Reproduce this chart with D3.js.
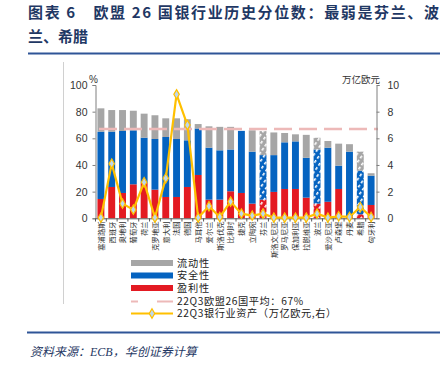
<!DOCTYPE html>
<html><head><meta charset="utf-8">
<script src="https://cdn.jsdelivr.net/npm/d3@7"></script>
<style>body{margin:0;background:#fff}svg{display:block}</style>
</head><body>
<svg id="c" width="446" height="366"></svg>
<script>
const countries = ["塞浦路斯","西班牙","奥地利","葡萄牙","荷兰","克罗地亚","意大利","法国","德国","马耳他","爱尔兰","斯洛伐克","比利时","捷克","立陶宛","芬兰","斯洛文尼亚","罗马尼亚","保加利亚","拉脱维亚","波兰","爱沙尼亚","卢森堡","丹麦","希腊","匈牙利"];
const profit    = [14.5,23.5,19,25.5,26.5,21.5,16,16,23.5,32.5,14,14,20.3,19,11,14,19.8,22,22,15.5,11,12.4,22,1.5,3,10];
const safety    = [50.5,41.5,46.5,40.5,34,38,45,43.5,35,34.9,39,37,31.3,46.6,39,33.4,27.6,35,35.7,29.9,40.6,40.6,17.5,48.5,32.7,22];
const liquidity = [17.5,16.2,15.7,14.7,18,17.8,14,15.5,15.8,3.3,16,17.6,17,0,16,18,17,7,5.3,17.2,8.8,5,16.5,5.6,14.3,1.8];
const assets    = [0.05,4.1,1.1,0.65,2.7,0.05,3.0,9.3,7.0,0.05,0.9,0.1,1.25,0.35,0.2,0.35,0.05,0.05,0.05,0.05,0.35,0.05,0.15,0.1,0.85,0.1];
const hatched   = ["芬兰","波兰","希腊"];
const average = 67;
const leftTicks = [0,20,40,60,80,100];
const rightTicks = [0,2,4,6,8,10];
const seriesNames = ["流动性","安全性","盈利性"];

const svg = d3.select("#c");
const font = "'Liberation Sans', Arial, sans-serif";
const cjk = "'Noto Sans CJK SC', sans-serif";
const C = {gray:"#A6A6A6", blue:"#0563C0", red:"#E31A22", yellow:"#FFC000", pink:"#EDB9B8", marker:"#BDD7EE"};

// patterns
const defs = svg.append("defs");
[["gray",C.gray],["blue",C.blue],["red",C.red]].forEach(([k,col])=>{
  const p = defs.append("pattern").attr("id","h_"+k).attr("patternUnits","userSpaceOnUse")
    .attr("width",5).attr("height",5).attr("patternTransform","rotate(35)");
  p.append("rect").attr("width",5).attr("height",5).attr("fill",col);
  p.append("rect").attr("x",0).attr("y",0).attr("width",1.6).attr("height",3).attr("fill","#fff");
});

// title
svg.append("text").attr("x",28).attr("y",18).attr("font-family",cjk).attr("font-weight","bold")
  .attr("font-size",15).attr("fill","#1F3864").attr("textLength",411).attr("lengthAdjust","spacing")
  .text("图表 6　欧盟 26 国银行业历史分位数：最弱是芬兰、波");
svg.append("text").attr("x",28).attr("y",42).attr("font-family",cjk).attr("font-weight","bold")
  .attr("font-size",15).attr("fill","#1F3864").text("兰、希腊");
svg.append("line").attr("x1",28).attr("x2",440).attr("y1",53.5).attr("y2",53.5).attr("stroke","#2F5597").attr("stroke-width",2);
svg.append("line").attr("x1",27).attr("x2",440).attr("y1",332.5).attr("y2",332.5).attr("stroke","#2F5597").attr("stroke-width",2);
svg.append("text").attr("x",30).attr("y",356).attr("font-family","'Liberation Serif', 'Noto Sans CJK SC', serif")
  .attr("font-style","italic").attr("font-size",12).attr("fill","#1F3864").text("资料来源：ECB，华创证券计算");

// frame line left
svg.append("line").attr("x1",63.5).attr("x2",63.5).attr("y1",62).attr("y2",304).attr("stroke","#D0D0D0").attr("stroke-width",1);

// scales
const x = d3.scaleBand().domain(countries).range([95.5,376.5]).paddingInner(0.36).paddingOuter(0.18);
const y = d3.scaleLinear().domain([0,100]).range([218.3,85]);
const y2 = d3.scaleLinear().domain([0,10]).range([218.3,85]);

// bars
const g = svg.append("g");
countries.forEach((c,i)=>{
  const h = hatched.includes(c);
  const segs = [[0,profit[i],"red",C.red],[profit[i],profit[i]+safety[i],"blue",C.blue],[profit[i]+safety[i],profit[i]+safety[i]+liquidity[i],"gray",C.gray]];
  segs.forEach(([a,b,k,col])=>{
    if(b-a<=0) return;
    g.append("rect").attr("x",x(c)).attr("width",x.bandwidth()).attr("y",y(b)).attr("height",y(a)-y(b))
      .attr("fill",h?`url(#h_${k})`:col);
  });
});

// average dashed line
svg.append("line").attr("x1",99).attr("x2",378).attr("y1",y(average)).attr("y2",y(average))
  .attr("stroke",C.pink).attr("stroke-width",2.5).attr("stroke-dasharray","18,7");

// axes
const axL = svg.append("g").attr("transform","translate(95.5,0)")
  .call(d3.axisLeft(y).tickValues(leftTicks).tickSize(3).tickPadding(5));
const axR = svg.append("g").attr("transform","translate(376.5,0)")
  .call(d3.axisRight(y2).tickValues(rightTicks).tickSize(3).tickPadding(8));
[axL,axR].forEach(a=>{
  a.select(".domain").attr("stroke","#7F7F7F");
  a.selectAll(".tick line").attr("stroke","#7F7F7F");
  a.selectAll("text").attr("font-family",font).attr("font-size",10.5).attr("fill","#333");
});
svg.append("text").attr("x",89).attr("y",83).attr("font-family",font).attr("font-size",10).attr("fill","#333").text("%");
svg.append("text").attr("x",380).attr("y",83).attr("text-anchor","end").attr("font-family",cjk).attr("font-size",9.5).attr("fill","#333").text("万亿欧元");

// x axis
const ax = svg.append("g").attr("transform","translate(0,218.3)")
  .call(d3.axisBottom(x).tickSize(0).tickPadding(0).tickFormat(""));
ax.select(".domain").attr("stroke","#595959");
const step = x.step();
x.domain().forEach((c,i)=>{
  const xb = x(c) - x.paddingInner()*step/2;
  svg.append("line").attr("x1",xb).attr("x2",xb).attr("y1",218.3).attr("y2",221.5).attr("stroke","#595959");
});
svg.append("g").selectAll("text").data(countries).join("text")
  .attr("transform",d=>`translate(${x(d)+x.bandwidth()/2+2.8},221.5) rotate(-90)`)
  .attr("text-anchor","end").attr("font-family",cjk).attr("font-size",7.3).attr("fill","#333").text(d=>d);

// asset line
const line = d3.line().x((d,i)=>x(countries[i])+x.bandwidth()/2).y(d=>y2(d));
svg.append("path").datum(assets).attr("d",line).attr("fill","none").attr("stroke",C.yellow).attr("stroke-width",2.2);
svg.append("g").selectAll("path").data(assets).join("path")
  .attr("d",d3.symbol(d3.symbolDiamond,26))
  .attr("transform",(d,i)=>`translate(${x(countries[i])+x.bandwidth()/2},${y2(d)})`)
  .attr("fill",C.marker).attr("stroke",C.yellow).attr("stroke-width",1.2);

// legend
const lg = svg.append("g");
const lx = 131, tx = 177, fs = 10.2;
[[C.gray,263],[C.blue,275.5],[C.red,288]].forEach(([col,yy],i)=>{
  lg.append("rect").attr("x",lx).attr("y",yy-3).attr("width",42).attr("height",6).attr("fill",col);
  lg.append("text").attr("x",tx).attr("y",yy+3.6).attr("font-family",cjk).attr("font-size",fs).attr("letter-spacing",0.8).attr("fill","#222").text(seriesNames[i]);
});
lg.append("line").attr("x1",131).attr("x2",138).attr("y1",301.5).attr("y2",301.5).attr("stroke",C.pink).attr("stroke-width",2);
lg.append("line").attr("x1",157).attr("x2",173).attr("y1",301.5).attr("y2",301.5).attr("stroke",C.pink).attr("stroke-width",2);
lg.append("text").attr("x",tx).attr("y",305).attr("font-family",cjk).attr("font-size",fs).attr("letter-spacing",0.6).attr("fill","#222").text("22Q3欧盟26国平均：67%");
lg.append("line").attr("x1",131).attr("x2",173).attr("y1",313.5).attr("y2",313.5).attr("stroke",C.yellow).attr("stroke-width",2.2);
lg.append("path").attr("d",d3.symbol(d3.symbolDiamond,26)).attr("transform","translate(152,313.5)")
  .attr("fill",C.marker).attr("stroke",C.yellow).attr("stroke-width",1.2);
lg.append("text").attr("x",tx).attr("y",317.3).attr("font-family",cjk).attr("font-size",fs).attr("letter-spacing",0.6).attr("fill","#222").text("22Q3银行业资产（万亿欧元,右）");
</script>
</body></html>
